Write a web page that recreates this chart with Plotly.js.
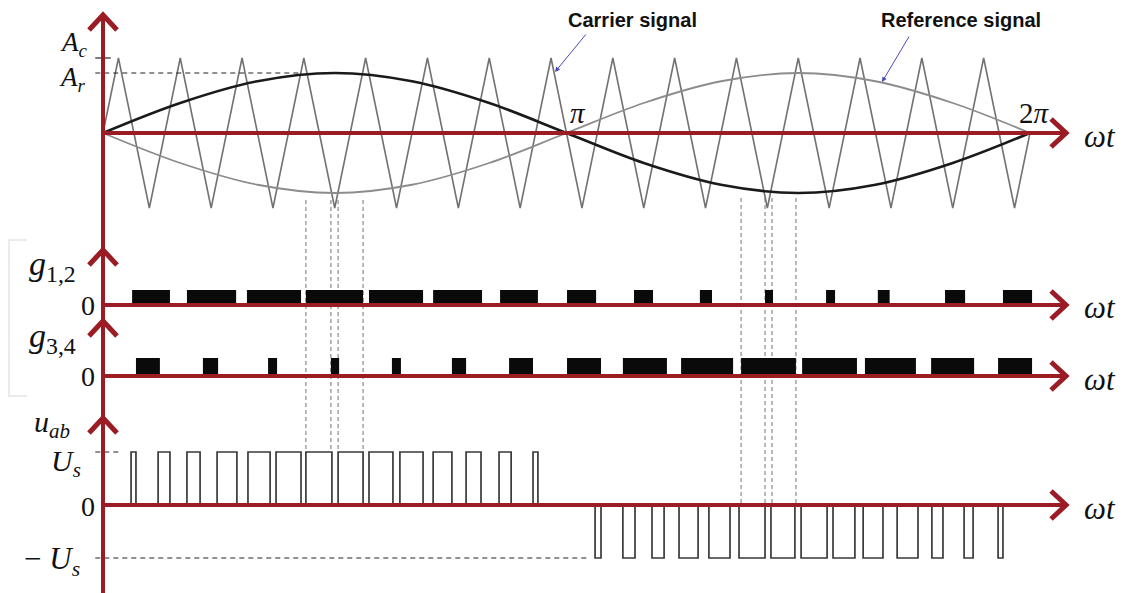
<!DOCTYPE html>
<html>
<head>
<meta charset="utf-8">
<script src="https://cdn.plot.ly/plotly-3.0.1.min.js"></script>
<style>html,body{margin:0;padding:0;background:#fff;}#chart{width:1139px;height:593px;}</style>
</head>
<body>
<div id="chart"></div>
<script>
// ---------- DATA (ωt in degrees, 0..360 = 0..2π) ----------
// Triangular carrier: vertex positions and values (per unit of A_c)
const carrierDeg = [0,6,18,30,42,54,66,78,90,102,114,126,138,150,162,174,186,198,210,222,234,246,258,270,282,294,306,318,330,342,354,360];
const carrierVal = [0,1,-1,1,-1,1,-1,1,-1,1,-1,1,-1,1,-1,1,-1,1,-1,1,-1,1,-1,1,-1,1,-1,1,-1,1,-1,0];
// Reference signals (A_r ≈ 0.8 A_c)
const refDeg  = [0,30,60,90,120,150,180,210,240,270,300,330,360];
const refPos  = [0,0.40,0.69,0.80,0.69,0.40,0,-0.40,-0.69,-0.80,-0.69,-0.40,0];
const refNeg  = [0,-0.40,-0.69,-0.80,-0.69,-0.40,0,0.40,0.69,0.80,0.69,0.40,0];
// Gate signals g1,2 : on-intervals
const g12Start = [11.3,32.6,55.9,78.8,103.3,128.2,154.2,180.2,206.2,231.8,257.1,280.8,300.9,327.0,349.5];
const g12End   = [26.0,51.7,76.9,101.0,124.3,147.2,168.9,191.5,213.6,236.5,260.2,284.3,305.5,334.8,360.8];
// Gate signals g3,4 : on-intervals
const g34Start = [12.8,38.8,64.1,88.5,112.2,135.5,157.7,180.2,201.9,224.5,247.8,271.5,295.9,321.6,347.6];
const g34End   = [22.1,44.7,67.6,91.7,115.7,141.0,167.0,193.4,219.0,244.7,269.1,292.8,315.7,338.3,360.8];
// Output voltage u_ab : +U_s pulses and -U_s pulses
const posStart = [10.9,21.4,32.6,44.3,56.3,67.2,78.8,91.3,103.3,115.3,128.2,141.0,153.8,167.0];
const posEnd   = [12.8,26.0,37.7,52.0,64.9,76.9,88.9,101.0,112.6,124.3,135.5,146.8,158.5,168.9];
const negStart = [191.1,201.9,213.2,223.7,235.3,247.0,259.4,271.1,283.5,295.2,308.4,321.9,334.4,347.6];
const negEnd   = [193.4,206.6,217.9,231.1,243.5,257.1,268.7,281.2,292.0,302.9,316.5,326.2,337.9,349.5];
// Switching instants marked with dashed lines
const markA = [78.8,88.5,91.3,101.0];
const markB = [247.8,257.1,259.8,269.1];
// Labels
const labelCarrier = "Carrier signal";
const labelReference = "Reference signal";

// ---------- DRAWING ----------
const W = 1139, H = 593;
const RED = '#9b1c24';
const fx = p => p / W, fy = p => 1 - p / H;

// u_ab waveform
const ux = [0], uy = [0];
posStart.forEach((s, i) => { ux.push(s, s, posEnd[i], posEnd[i]); uy.push(0, 1, 1, 0); });
negStart.forEach((s, i) => { ux.push(s, s, negEnd[i], negEnd[i]); uy.push(0, -1, -1, 0); });
ux.push(360); uy.push(0);

const barTrace = (st, en, yax) => ({
  type: 'bar', xaxis: 'x', yaxis: yax,
  x: st.map((s, i) => (s + en[i]) / 2),
  width: st.map((s, i) => en[i] - s),
  y: st.map(() => 1), base: 0,
  marker: {color: '#0a0a0a', line: {width: 0}},
  hoverinfo: 'skip'
});

const traces = [
  {x: carrierDeg, y: carrierVal, mode: 'lines', line: {color: '#727272', width: 1.6}, xaxis: 'x', yaxis: 'y'},
  {x: refDeg, y: refNeg, mode: 'lines', line: {color: '#8c8c8c', width: 1.8, shape: 'spline'}, xaxis: 'x', yaxis: 'y'},
  {x: refDeg, y: refPos, mode: 'lines', line: {color: '#1a1a1a', width: 2.6, shape: 'spline'}, xaxis: 'x', yaxis: 'y'},
  barTrace(g12Start, g12End, 'y2'),
  barTrace(g34Start, g34End, 'y3'),
  {x: ux, y: uy, mode: 'lines', line: {color: '#3a3a3a', width: 1.7}, xaxis: 'x', yaxis: 'y4'}
];

const TIP = 374;
const shapes = [];
// dashed switching markers
markA.forEach(d => shapes.push({type: 'line', xref: 'x', yref: 'paper', x0: d, x1: d, y0: fy(200), y1: fy(452), line: {color: '#8a8a8a', width: 1.2, dash: '4px,3px'}, layer: 'below'}));
markB.forEach(d => shapes.push({type: 'line', xref: 'x', yref: 'paper', x0: d, x1: d, y0: fy(198), y1: fy(505), line: {color: '#8a8a8a', width: 1.2, dash: '4px,3px'}, layer: 'below'}));
// level dashes
shapes.push({type: 'line', xref: 'x', yref: 'y', x0: -3, x1: 3, y0: 1, y1: 1, line: {color: '#222', width: 1.2}});
shapes.push({type: 'line', xref: 'x', yref: 'y', x0: -3, x1: 77, y0: 0.8, y1: 0.8, line: {color: '#222', width: 1.2, dash: '5px,4px'}});
shapes.push({type: 'line', xref: 'x', yref: 'y4', x0: -3, x1: 7.5, y0: 1, y1: 1, line: {color: '#222', width: 1.2, dash: '5px,4px'}});
shapes.push({type: 'line', xref: 'x', yref: 'y4', x0: -3, x1: 189, y0: -1, y1: -1, line: {color: '#222', width: 1.2, dash: '5px,4px'}});
// faint bracket on the left
shapes.push({type: 'path', xref: 'paper', yref: 'paper', path: `M ${fx(27)},${fy(240)} L ${fx(9)},${fy(240)} L ${fx(9)},${fy(396)} L ${fx(27)},${fy(396)}`, line: {color: '#ebebeb', width: 2}, layer: 'below'});
// axes
shapes.push({type: 'line', xref: 'x', yref: 'paper', x0: 0, x1: 0, y0: 0, y1: fy(16), line: {color: RED, width: 4}});
['y', 'y2', 'y3', 'y4'].forEach(ya => {
  shapes.push({type: 'line', xref: 'x', yref: ya, x0: 0, x1: TIP, y0: 0, y1: 0, line: {color: RED, width: 4}});
  shapes.push({type: 'path', xref: 'x', yref: ya, xsizemode: 'pixel', ysizemode: 'pixel', xanchor: TIP, yanchor: 0,
    path: 'M -15,14 L 0,0 L -15,-14', line: {color: RED, width: 5}});
});
[['y', 1.573], ['y2', 3.667], ['y3', 3.056], ['y4', 1.642]].forEach(([ya, tip]) => {
  shapes.push({type: 'path', xref: 'x', yref: ya, xsizemode: 'pixel', ysizemode: 'pixel', xanchor: 0, yanchor: tip,
    path: 'M -14,-15 L 0,0 L 14,-15', line: {color: RED, width: 5}});
});

const MATH = 'Liberation Serif, DejaVu Serif, serif';
const txt = (p, q, text, size, opts) => Object.assign({xref: 'paper', yref: 'paper', x: fx(p), y: fy(q), text: text, showarrow: false,
  xanchor: 'center', yanchor: 'middle', font: {family: MATH, size: size, color: '#111'}}, opts || {});
const SANS = {family: 'Liberation Sans, Arial, sans-serif', size: 20, color: '#111'};

const annotations = [
  txt(74, 44, '<i>A<sub>c</sub></i>', 27),
  txt(72, 79, '<i>A<sub>r</sub></i>', 27),
  txt(578, 113, '<i>π</i>', 29),
  txt(1034, 113, '2<i>π</i>', 29),
  txt(1100, 137, '<i>ωt</i>', 31),
  txt(1100, 307, '<i>ωt</i>', 31),
  txt(1100, 379, '<i>ωt</i>', 31),
  txt(1100, 508, '<i>ωt</i>', 31),
  txt(53, 266, '<i>g</i><sub>1,2</sub>', 34),
  txt(53, 338, '<i>g</i><sub>3,4</sub>', 34),
  txt(88, 305, '0', 28),
  txt(88, 377, '0', 28),
  txt(52, 424, '<i>u<sub>ab</sub></i>', 30),
  txt(66, 463, '<i>U<sub>s</sub></i>', 30),
  txt(88, 506, '0', 28),
  txt(52, 561, '− <i>U<sub>s</sub></i>', 31),
  txt(632, 20, '<b>' + labelCarrier + '</b>', 20, {font: SANS}),
  txt(961, 20, '<b>' + labelReference + '</b>', 20, {font: SANS}),
  {xref: 'paper', yref: 'paper', x: fx(555), y: fy(72), ax: 32, ay: -39, text: '', showarrow: true,
    arrowhead: 2, arrowsize: 1, arrowwidth: 1, arrowcolor: '#4a4ab8'},
  {xref: 'paper', yref: 'paper', x: fx(882), y: fy(82), ax: 28, ay: -47, text: '', showarrow: true,
    arrowhead: 2, arrowsize: 1, arrowwidth: 1, arrowcolor: '#4a4ab8'}
];

const hid = {visible: false, fixedrange: true};
const layout = {
  width: W, height: H, margin: {l: 0, r: 0, t: 0, b: 0},
  paper_bgcolor: '#fff', plot_bgcolor: '#fff', showlegend: false, barmode: 'overlay',
  xaxis: Object.assign({range: [-40.0, 402.33], domain: [0, 1]}, hid),
  yaxis: Object.assign({range: [-6.1333, 1.7733], domain: [0, 1]}, hid),
  yaxis2: Object.assign({range: [-19.2, 20.333], overlaying: 'y'}, hid),
  yaxis3: Object.assign({range: [-12.056, 20.889], overlaying: 'y'}, hid),
  yaxis4: Object.assign({range: [-1.6604, 9.5283], overlaying: 'y'}, hid),
  shapes: shapes, annotations: annotations
};
Plotly.newPlot('chart', traces, layout, {staticPlot: true, displayModeBar: false});
</script>
</body>
</html>
